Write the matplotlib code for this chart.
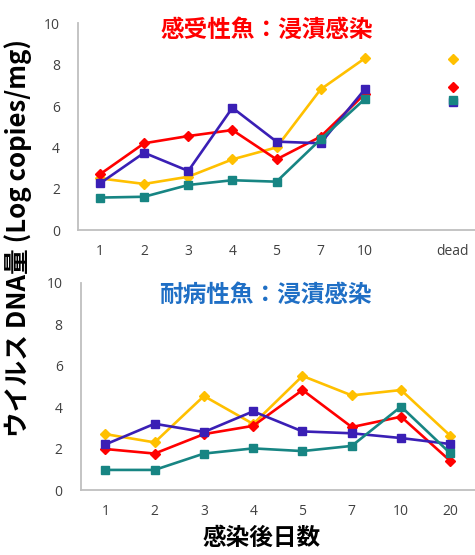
import matplotlib
matplotlib.use("Agg")
import matplotlib.pyplot as plt

plt.rcParams['font.family'] = ['Noto Sans CJK JP', 'DejaVu Sans']

# ---- data ----
top_cats = ["1", "2", "3", "4", "5", "7", "10", "", "dead"]
top_days = ["1", "2", "3", "4", "5", "7", "10"]
top_yellow = [2.50, 2.23, 2.58, 3.42, 4.00, 6.81, 8.31]
top_red = [2.70, 4.20, 4.55, 4.84, 3.42, 4.52, 6.59]
top_blue = [2.26, 3.74, 2.86, 5.92, 4.28, 4.20, 6.81]
top_teal = [1.57, 1.61, 2.18, 2.41, 2.34, 4.39, 6.34]
dead_yellow = 8.26
dead_red = 6.94
dead_blue = 6.21
dead_teal = 6.30

bot_cats = ["1", "2", "3", "4", "5", "7", "10", "20"]
bot_yellow = [2.70, 2.30, 4.54, 3.19, 5.51, 4.57, 4.83, 2.62]
bot_red = [1.98, 1.76, 2.70, 3.10, 4.83, 3.04, 3.54, 1.40]
bot_blue = [2.20, 3.20, 2.80, 3.80, 2.83, 2.74, 2.51, 2.22]
bot_teal = [0.97, 0.97, 1.76, 2.01, 1.88, 2.13, 4.03, 1.77]

yticks = [0, 2, 4, 6, 8, 10]

title_top = "感受性魚：浸漬感染"
title_bot = "耐病性魚：浸漬感染"
ylabel = "ウイルス DNA量 (Log copies/mg)"
xlabel = "感染後日数"

C_Y = "#FFC000"
C_R = "#FF0000"
C_B = "#3A1FB5"
C_T = "#178583"

W, H = 475, 555
fig = plt.figure(figsize=(W / 100, H / 100), dpi=100)

ax1 = fig.add_axes([78 / W, 1 - 230 / H, (W - 78) / W, (230 - 23.5) / H])
ax2 = fig.add_axes([80.7 / W, 1 - 490 / H, (W - 80.7) / W, (490 - 283) / H])

series_style = [
    (C_Y, "D", 5.5),
    (C_R, "D", 5.5),
    (C_B, "s", 6.2),
    (C_T, "s", 6.2),
]

def style_axes(ax, cats):
    ax.set_ylim(0, 10)
    ax.set_xlim(-0.5, len(cats) - 0.5)
    ax.set_yticks(yticks)
    ax.set_yticklabels([str(v) for v in yticks], fontfamily="Open Sans",
                       fontsize=10, color="#404040")
    ax.set_xticks(range(len(cats)))
    ax.set_xticklabels(cats, fontfamily="Open Sans", fontsize=10, color="#404040")
    ax.tick_params(length=0, pad=13)
    ax.tick_params(axis="x", pad=10)
    for s in ["top", "right"]:
        ax.spines[s].set_visible(False)
    for s in ["left", "bottom"]:
        ax.spines[s].set_color("#BFBFBF")
        ax.spines[s].set_linewidth(1.3)
    ax.set_facecolor("none")

# top panel
x_top = list(range(len(top_days)))
for vals, (c, m, ms) in zip([top_yellow, top_red, top_blue, top_teal], series_style):
    ax1.plot(x_top, vals, color=c, marker=m, markersize=ms, linewidth=1.9,
             clip_on=False)
dead_x = top_cats.index("dead")
for v, (c, m, ms) in zip([dead_yellow, dead_red, dead_blue, dead_teal], series_style):
    ax1.plot([dead_x], [v], color=c, marker=m, markersize=ms, linestyle="none")
style_axes(ax1, top_cats)
ax1.text(267 / W, 1 - 30 / H, title_top, transform=fig.transFigure, ha="center",
         va="center", color="#FF0000", fontsize=17, fontweight="bold")

# bottom panel
x_bot = list(range(len(bot_cats)))
for vals, (c, m, ms) in zip([bot_yellow, bot_red, bot_blue, bot_teal], series_style):
    ax2.plot(x_bot, vals, color=c, marker=m, markersize=ms, linewidth=1.9,
             clip_on=False)
style_axes(ax2, bot_cats)
ax2.text(265 / W, 1 - 295 / H, title_bot, transform=fig.transFigure, ha="center",
         va="center", color="#1F6FC5", fontsize=17, fontweight="bold")

fig.text(18 / W, 1 - 238 / H, ylabel, rotation=90, ha="center", va="center",
         fontsize=18.5, fontweight="bold", color="black")
fig.text(262 / W, 1 - 538 / H, xlabel, ha="center", va="center",
         fontsize=17, fontweight="bold", color="black")

fig.savefig("out.png", dpi=100)
